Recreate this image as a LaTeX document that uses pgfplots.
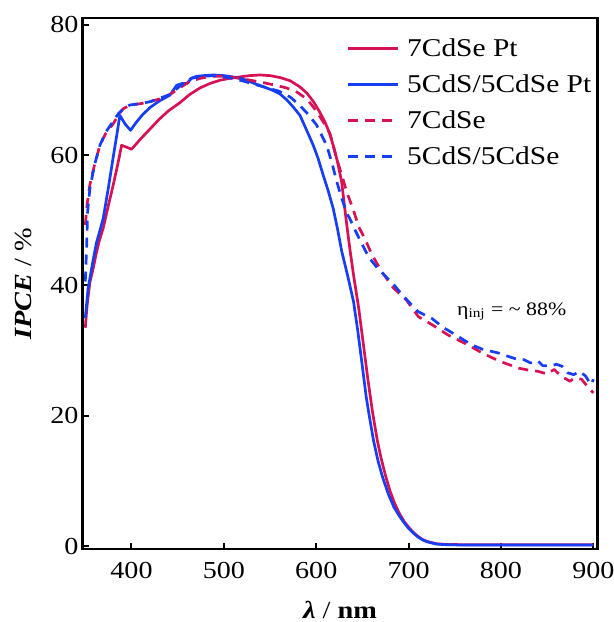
\documentclass[border=0pt]{standalone}
\usepackage{fontspec}
\setmainfont[FakeStretch=1.15]{Liberation Serif}
\usepackage{pgfplots}
\pgfplotsset{compat=1.18}
\definecolor{cred}{RGB}{214,18,84}
\definecolor{cblue}{RGB}{22,62,245}
\begin{document}
\begin{tikzpicture}
\begin{axis}[
 scale only axis, width=257.4pt, height=265.4pt,
 xmin=347, xmax=904.5, ymin=-0.5, ymax=81,
 xtick={400,500,...,900}, ytick={0,20,...,80},
 tick pos=left, tick align=inside, major tick length=3pt,
 axis line style={line width=1.2pt}, tick style={line width=1pt, black},
 /pgf/number format/assume math mode=true,
 ticklabel style={font=\fontsize{12.2}{14}\selectfont},
 xticklabel style={yshift=-3.2pt},
 yticklabel style={xshift=1.5pt},
 xlabel={\textbf{\textit{λ}} / \textbf{nm}},
 ylabel={\textbf{\textit{IPCE}} / \%},
 label style={font=\fontsize{12.3}{14}\selectfont},
 xlabel style={at={(axis description cs:0.5,-0.13)}, anchor=base},
 ylabel style={at={(axis description cs:-0.0987,0.5)}, anchor=base},
 no markers,
 legend style={draw=none, fill=none, at={(axis description cs:0.50,0.978)}, anchor=north west,
   font=\fontsize{12.8}{15}\selectfont, row sep=3.6pt,
   /tikz/every odd column/.append style={column sep=2pt}},
 legend cell align=left,
 legend image code/.code={\draw[#1] (0pt,0pt) -- (25pt,0pt);},
]
\addplot[cred, line width=1.35pt, line join=round] coordinates {(350,33.5) (352,37) (355,40.5) (358.5,42.6) (362,45) (365,46.8) (369.4,48.8) (375,52.3) (380.2,55.4) (385,58.5) (389.3,61.5) (395,61.2) (400.1,60.9) (410,62.5) (420,64.0) (430,65.5) (440,66.8) (452,68.0) (463,69.3) (474,70.3) (485,71.0) (496,71.5) (507,71.8) (517,72.0) (528,72.2) (539,72.3) (550,72.2) (561,71.9) (572,71.4) (582,70.5) (590,69.5) (597,68.2) (603,66.8) (609.4,65.1) (614,63.5) (618.4,61.5) (623,59) (627.5,55.9) (632,50.5) (636.5,45.5) (641,41.0) (646,36.5) (651,31) (656,25.5) (661,20.5) (666,16.3) (670,13.6) (675,10.8) (680,8.4) (685,6.5) (690,5) (695,3.8) (700,2.9) (705,2.1) (710,1.5) (715,1.0) (720,0.7) (730,0.35) (740,0.25) (760,0.2) (800,0.2) (850,0.2) (900,0.2)};
\addlegendentry{7CdSe Pt}
\addplot[cblue, line width=1.35pt, line join=round] coordinates {(350,35) (353,39.5) (358.5,43.9) (362,46.5) (365,48) (369.4,50.3) (375,55) (380,59.5) (384,63) (387.4,66.1) (393,64.8) (399,63.8) (405,65.0) (412,66.2) (420,67.3) (430,68.3) (441.6,69.2) (448.8,70.7) (455,71.0) (460,71.0) (465,71.8) (470.5,72.1) (478,72.2) (488.5,72.3) (500,72.2) (510,72.0) (517,71.8) (524.6,71.5) (533,71.0) (542.6,70.5) (552,70.0) (560.7,69.4) (568,68.5) (575,67.4) (582.4,66.1) (590,63.7) (596.8,61.5) (602,59.5) (607.6,56.9) (613,54.5) (618.4,51.8) (623,48.7) (627.5,45.3) (634,41.5) (640.4,37.5) (645,33) (650,27.5) (654,23) (657.4,20) (662,16.2) (667,13) (672,10.5) (678,8) (684,6) (690,4.6) (695,3.6) (700,2.7) (705,2.0) (710,1.4) (715,0.95) (720,0.65) (730,0.3) (740,0.2) (760,0.15) (800,0.15) (900,0.15)};
\addlegendentry{5CdS/5CdSe Pt}
\addplot[cred, line width=1.35pt, line join=round, dash pattern=on 5pt off 3.5pt] coordinates {(350,49.3) (352,52.5) (355,55.5) (360,58.5) (365.8,61.5) (372,63.3) (380.2,64.8) (386,66.2) (391,67.1) (398.3,67.7) (410,67.9) (420,68.2) (430,68.6) (441.6,69.3) (452,70.3) (463,71.3) (475,71.8) (488.5,72.1) (500,72.1) (512,71.9) (524.6,71.6) (540,71.2) (557,70.7) (568,70.3) (578.8,69.7) (590,68.6) (600,66.8) (608,65.0) (614.9,63.3) (622.1,59.5) (627.7,56.9) (632.9,54.4) (640.4,51.5) (646,49) (653.2,47.0) (660,44.8) (670,42.3) (683,39.7) (697.9,37.7) (710.6,35.2) (725,34) (742.6,32.4) (763.8,30.9) (780,29.6) (797.9,28.4) (819,27.3) (830,27.0) (840.4,26.8) (850,26.4) (857.4,27.1) (866,26.0) (874.5,25.3) (880,25.8) (887.2,25.6) (893,24.6) (900,23.5)};
\addlegendentry{7CdSe}
\addplot[cblue, line width=1.35pt, line join=round, dash pattern=on 5pt off 3.5pt] coordinates {(350,40.6) (351.4,45.7) (352.5,51.3) (355,54.9) (360,58.5) (365.8,61.5) (372,63.5) (380.2,65.2) (386,66.4) (391,67.1) (398.3,67.7) (410,67.9) (420,68.2) (430,68.7) (441.6,69.3) (450,70.3) (458,71.2) (465,71.8) (478,72.1) (490,72.2) (505,71.9) (520,71.4) (540,70.6) (560,69.8) (572,68.9) (582.4,67.6) (591,66.3) (600.5,64.6) (606,63.0) (611.3,61.5) (617,58.8) (622.1,56.0) (627.5,53.4) (632.9,51.1) (636.2,50.3) (642,48.5) (649,46.5) (657,44.3) (666,42.7) (675,41.4) (683,40.3) (691,38.9) (700,37.5) (710,36.0) (725.5,34.9) (738,33.5) (751,32.4) (760,31.6) (768,30.9) (780,30.2) (797.9,29.6) (810,29.0) (819,28.6) (825,28.6) (831.9,28.1) (840,28.4) (845,27.7) (853.2,27.6) (860,27.9) (866,27.6) (872,26.6) (878.7,26.3) (885,26.8) (891.5,26.1) (895,25.3) (897.9,24.8) (900,25.6)};
\addlegendentry{5CdS/5CdSe}
\node[font=\fontsize{9.5}{11}\selectfont] at (axis cs:811.6,36) {η\textsubscript{inj} = \textasciitilde{} 88\%};
\end{axis}
\pgfresetboundingbox
\path[use as bounding box] ([xshift=-41.25pt,yshift=-36.35pt]current axis.south west) rectangle ([xshift=7.9pt,yshift=9.15pt]current axis.north east);
\end{tikzpicture}
\end{document}
